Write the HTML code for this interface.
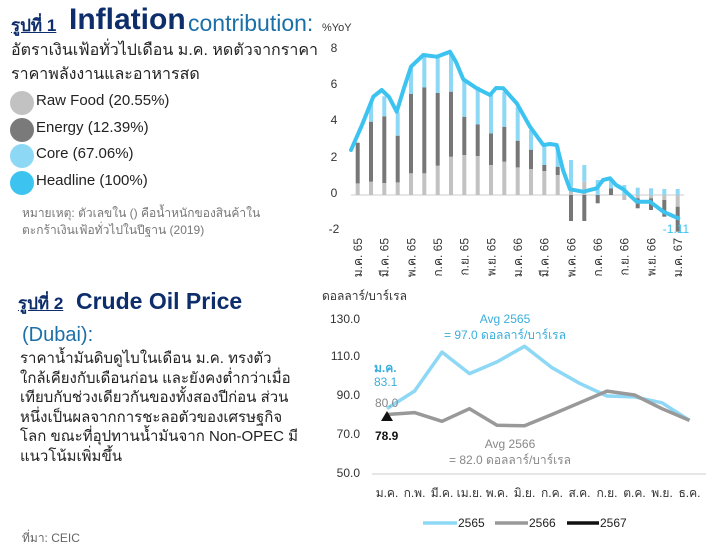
<!DOCTYPE html>
<html><head><meta charset="utf-8"><style>
body{margin:0;width:720px;height:556px;background:#fff;overflow:hidden;font-family:"Liberation Sans","Noto Sans CJK SC",sans-serif;position:relative}
.a{position:absolute;white-space:nowrap}
</style></head><body>
<div class="a" style="left:11px;top:12px;font-size:17px;font-weight:bold;color:#0d2d6b;text-decoration:underline">รูปที่ 1</div>
<div class="a" style="left:69px;top:3px;font-size:30px;font-weight:bold;color:#0d2d6b">Inflation</div>
<div class="a" style="left:188px;top:10px;font-size:23px;color:#1b6fa8">contribution:</div>
<div class="a" style="left:322px;top:22px;font-size:11px;color:#333">%YoY</div>
<div class="a" style="left:11px;top:39px;font-size:16px;color:#222;line-height:24px">อัตราเงินเฟ้อทั่วไปเดือน ม.ค. หดตัวจากราคา<br>ราคาพลังงานและอาหารสด</div>
<div class="a" style="left:10px;top:91px;width:24px;height:24px;border-radius:50%;background:#c2c2c2"></div>
<div class="a" style="left:36px;top:92px;font-size:15px;color:#222">Raw Food (20.55%)</div>
<div class="a" style="left:10px;top:118px;width:24px;height:24px;border-radius:50%;background:#7a7a7a"></div>
<div class="a" style="left:36px;top:119px;font-size:15px;color:#222">Energy (12.39%)</div>
<div class="a" style="left:10px;top:144px;width:24px;height:24px;border-radius:50%;background:#8dd8f5"></div>
<div class="a" style="left:36px;top:145px;font-size:15px;color:#222">Core (67.06%)</div>
<div class="a" style="left:10px;top:171px;width:24px;height:24px;border-radius:50%;background:#3cc3f0"></div>
<div class="a" style="left:36px;top:172px;font-size:15px;color:#222">Headline (100%)</div>
<div class="a" style="left:22px;top:205px;font-size:12px;color:#777;line-height:17px">หมายเหตุ: ตัวเลขใน () คือน้ำหนักของสินค้าใน<br>ตะกร้าเงินเฟ้อทั่วไปในปีฐาน (2019)</div>

<div class="a" style="left:18px;top:290px;font-size:17px;font-weight:bold;color:#0d2d6b;text-decoration:underline">รูปที่ 2</div>
<div class="a" style="left:76px;top:288px;font-size:23px;font-weight:bold;color:#0d2d6b">Crude Oil Price</div>
<div class="a" style="left:22px;top:324px;font-size:20px;color:#1b6fa8">(Dubai):</div>
<div class="a" style="left:20px;top:349px;font-size:15px;color:#222;line-height:19.5px">ราคาน้ำมันดิบดูไบในเดือน ม.ค. ทรงตัว<br>ใกล้เคียงกับเดือนก่อน และยังคงต่ำกว่าเมื่อ<br>เทียบกับช่วงเดียวกันของทั้งสองปีก่อน ส่วน<br>หนึ่งเป็นผลจากการชะลอตัวของเศรษฐกิจ<br>โลก ขณะที่อุปทานน้ำมันจาก Non-OPEC มี<br>แนวโน้มเพิ่มขึ้น</div>
<div class="a" style="left:22px;top:529px;font-size:12px;color:#666">ที่มา: CEIC</div>

<svg class="a" style="left:0;top:0" width="720" height="556" font-family="Liberation Sans, Noto Sans CJK SC, sans-serif">
<g font-size="12" fill="#333" text-anchor="middle">
<text x="334" y="52">8</text><text x="334" y="88">6</text><text x="334" y="124">4</text><text x="334" y="161">2</text><text x="334" y="197">0</text><text x="334" y="233">-2</text>
</g>
<line x1="351" y1="195" x2="684" y2="195" stroke="#ccc" stroke-width="1"/>
<g fill="#c2c2c2">
<rect x="355.7" y="183.3" width="4" height="11.7"/><rect x="369" y="181.7" width="4" height="13.3"/><rect x="382.3" y="183" width="4" height="12"/><rect x="395.7" y="182.3" width="4" height="12.7"/><rect x="409" y="173.3" width="4" height="21.7"/><rect x="422.3" y="173.3" width="4" height="21.7"/><rect x="435.7" y="165.7" width="4" height="29.3"/><rect x="449" y="156.7" width="4" height="38.3"/><rect x="462.3" y="155" width="4" height="40"/><rect x="475.7" y="156" width="4" height="39"/><rect x="489" y="165" width="4" height="30"/><rect x="502.3" y="161.7" width="4" height="33.3"/><rect x="515.7" y="167.3" width="4" height="27.7"/><rect x="529" y="169" width="4" height="26"/><rect x="542.3" y="171" width="4" height="24"/><rect x="555.7" y="175" width="4" height="20"/><rect x="569" y="186.7" width="4" height="8.3"/><rect x="582.3" y="181.7" width="4" height="13.3"/>
<rect x="622.3" y="195" width="4" height="5"/><rect x="635.7" y="195" width="4" height="3.3"/><rect x="649" y="195" width="4" height="3.3"/><rect x="662.3" y="195" width="4" height="5"/><rect x="675.7" y="195" width="4" height="11.7"/>
</g>
<g fill="#777">
<rect x="355.7" y="142.7" width="4" height="40.7"/><rect x="369" y="121.7" width="4" height="60"/><rect x="382.3" y="116.3" width="4" height="66.7"/><rect x="395.7" y="135.7" width="4" height="46.7"/><rect x="409" y="94" width="4" height="79.3"/><rect x="422.3" y="87.3" width="4" height="86"/><rect x="435.7" y="93" width="4" height="72.7"/><rect x="449" y="91.7" width="4" height="65"/><rect x="462.3" y="116.7" width="4" height="38.3"/><rect x="475.7" y="124.3" width="4" height="31.7"/><rect x="489" y="133.3" width="4" height="31.7"/><rect x="502.3" y="126.7" width="4" height="35"/><rect x="515.7" y="140.7" width="4" height="26.7"/><rect x="529" y="149.7" width="4" height="19.3"/><rect x="542.3" y="165" width="4" height="6"/><rect x="555.7" y="166.7" width="4" height="8.3"/>
<rect x="569" y="195" width="4" height="26"/><rect x="582.3" y="195" width="4" height="26"/><rect x="595.7" y="195" width="4" height="8.3"/><rect x="609" y="188.3" width="4" height="6.7"/><rect x="635.7" y="198.3" width="4" height="10"/><rect x="649" y="198.3" width="4" height="11.7"/><rect x="662.3" y="200" width="4" height="16.7"/><rect x="675.7" y="206.7" width="4" height="25"/>
</g>
<g fill="#8dd8f5">
<rect x="369" y="103.3" width="4" height="18.3"/><rect x="382.3" y="96.3" width="4" height="20"/><rect x="395.7" y="112.3" width="4" height="23.3"/><rect x="409" y="66.7" width="4" height="27.3"/><rect x="422.3" y="56.7" width="4" height="30.7"/><rect x="435.7" y="56.7" width="4" height="36.3"/><rect x="449" y="53.3" width="4" height="38.3"/><rect x="462.3" y="80" width="4" height="36.7"/><rect x="475.7" y="86.7" width="4" height="37.7"/><rect x="489" y="93.3" width="4" height="40"/><rect x="502.3" y="91.7" width="4" height="35"/><rect x="515.7" y="107.3" width="4" height="33.3"/><rect x="529" y="130" width="4" height="19.7"/><rect x="542.3" y="145" width="4" height="20"/><rect x="555.7" y="146.7" width="4" height="20"/><rect x="569" y="160" width="4" height="26.7"/><rect x="582.3" y="165" width="4" height="16.7"/><rect x="595.7" y="180" width="4" height="15"/><rect x="609" y="178.3" width="4" height="10"/><rect x="622.3" y="185" width="4" height="10"/><rect x="635.7" y="187.7" width="4" height="7.3"/><rect x="649" y="188.3" width="4" height="6.7"/><rect x="662.3" y="189" width="4" height="6"/><rect x="675.7" y="189" width="4" height="6"/>
</g>
<polyline fill="none" stroke="#3cc3f0" stroke-width="4" stroke-linejoin="round" stroke-linecap="round" points="351,150 362,125 373.3,96.7 381.7,90 389,97 396.7,111.7 404,88 411,66.7 423.3,55 436.7,56.7 450,51.7 456,62 463.3,79.3 476.7,88.3 490,95 496,88 503.3,88.3 516.7,103.3 530,126.7 543.3,145 550,144 556.7,145 563,170 570,189.3 583.3,191.7 596.7,188.3 603,180 610,178.3 616,185 623.3,189.3 636.7,201.7 650,201.7 663.3,211.7 678.3,218.3"/>
<text x="676" y="233" font-size="12" fill="#3cc3f0" text-anchor="middle">-1.11</text>
<g font-size="12" fill="#333" text-anchor="end">
<text transform="translate(362,238) rotate(-90)">ม.ค. 65</text><text transform="translate(388.7,238) rotate(-90)">มี.ค. 65</text><text transform="translate(415.3,238) rotate(-90)">พ.ค. 65</text><text transform="translate(442,238) rotate(-90)">ก.ค. 65</text><text transform="translate(468.7,238) rotate(-90)">ก.ย. 65</text><text transform="translate(495.3,238) rotate(-90)">พ.ย. 65</text><text transform="translate(522,238) rotate(-90)">ม.ค. 66</text><text transform="translate(548.7,238) rotate(-90)">มี.ค. 66</text><text transform="translate(575.3,238) rotate(-90)">พ.ค. 66</text><text transform="translate(602,238) rotate(-90)">ก.ค. 66</text><text transform="translate(628.7,238) rotate(-90)">ก.ย. 66</text><text transform="translate(655.3,238) rotate(-90)">พ.ย. 66</text><text transform="translate(682,238) rotate(-90)">ม.ค. 67</text>
</g>

<text x="322" y="300" font-size="12" fill="#333">ดอลลาร์/บาร์เรล</text>
<g font-size="12" fill="#333" text-anchor="end">
<text x="360" y="323">130.0</text><text x="360" y="360">110.0</text><text x="360" y="399">90.0</text><text x="360" y="438">70.0</text><text x="360" y="477">50.0</text>
</g>
<line x1="372" y1="474" x2="706" y2="474" stroke="#ccc"/>
<polyline fill="none" stroke="#8dd8f5" stroke-width="3.5" stroke-linejoin="round" points="387,408.5 414.5,391.1 442,352.1 469.5,373.6 497,361.9 524.5,346.3 552,367.7 579.5,383.3 607,396 634.5,396.9 662,402.8 689.5,420.4"/>
<polyline fill="none" stroke="#999" stroke-width="3.5" stroke-linejoin="round" points="387,414.5 414.5,412.6 442,421.3 469.5,408.7 497,425.2 524.5,425.8 552,414.5 579.5,402.8 607,391.1 634.5,395 662,408.7 689.5,420.4"/>
<polygon points="387,411 381,421 393,421" fill="#111"/>
<text x="374" y="372" font-size="12" font-weight="bold" fill="#3aaedc">ม.ค.</text>
<text x="374" y="386" font-size="12" fill="#3aaedc">83.1</text>
<text x="375" y="407" font-size="12" fill="#888">80.0</text>
<text x="375" y="440" font-size="12" font-weight="bold" fill="#111">78.9</text>
<g font-size="12" text-anchor="middle">
<text x="505" y="323" fill="#3aaedc">Avg 2565</text><text x="505" y="339" fill="#3aaedc">= 97.0 ดอลลาร์/บาร์เรล</text>
<text x="510" y="448" fill="#888">Avg 2566</text><text x="510" y="464" fill="#888">= 82.0 ดอลลาร์/บาร์เรล</text>
</g>
<g font-size="12" fill="#333" text-anchor="middle">
<text x="387" y="497">ม.ค.</text><text x="414.5" y="497">ก.พ.</text><text x="442" y="497">มี.ค.</text><text x="469.5" y="497">เม.ย.</text><text x="497" y="497">พ.ค.</text><text x="524.5" y="497">มิ.ย.</text><text x="552" y="497">ก.ค.</text><text x="579.5" y="497">ส.ค.</text><text x="607" y="497">ก.ย.</text><text x="634.5" y="497">ต.ค.</text><text x="662" y="497">พ.ย.</text><text x="689.5" y="497">ธ.ค.</text>
</g>
<line x1="423" y1="523" x2="457" y2="523" stroke="#8dd8f5" stroke-width="3.5"/>
<text x="458" y="527" font-size="12" fill="#222">2565</text>
<line x1="495" y1="523" x2="528" y2="523" stroke="#999" stroke-width="3.5"/>
<text x="529" y="527" font-size="12" fill="#222">2566</text>
<line x1="567" y1="523" x2="599" y2="523" stroke="#111" stroke-width="3.5"/>
<text x="600" y="527" font-size="12" fill="#222">2567</text>
</svg>
</body></html>
